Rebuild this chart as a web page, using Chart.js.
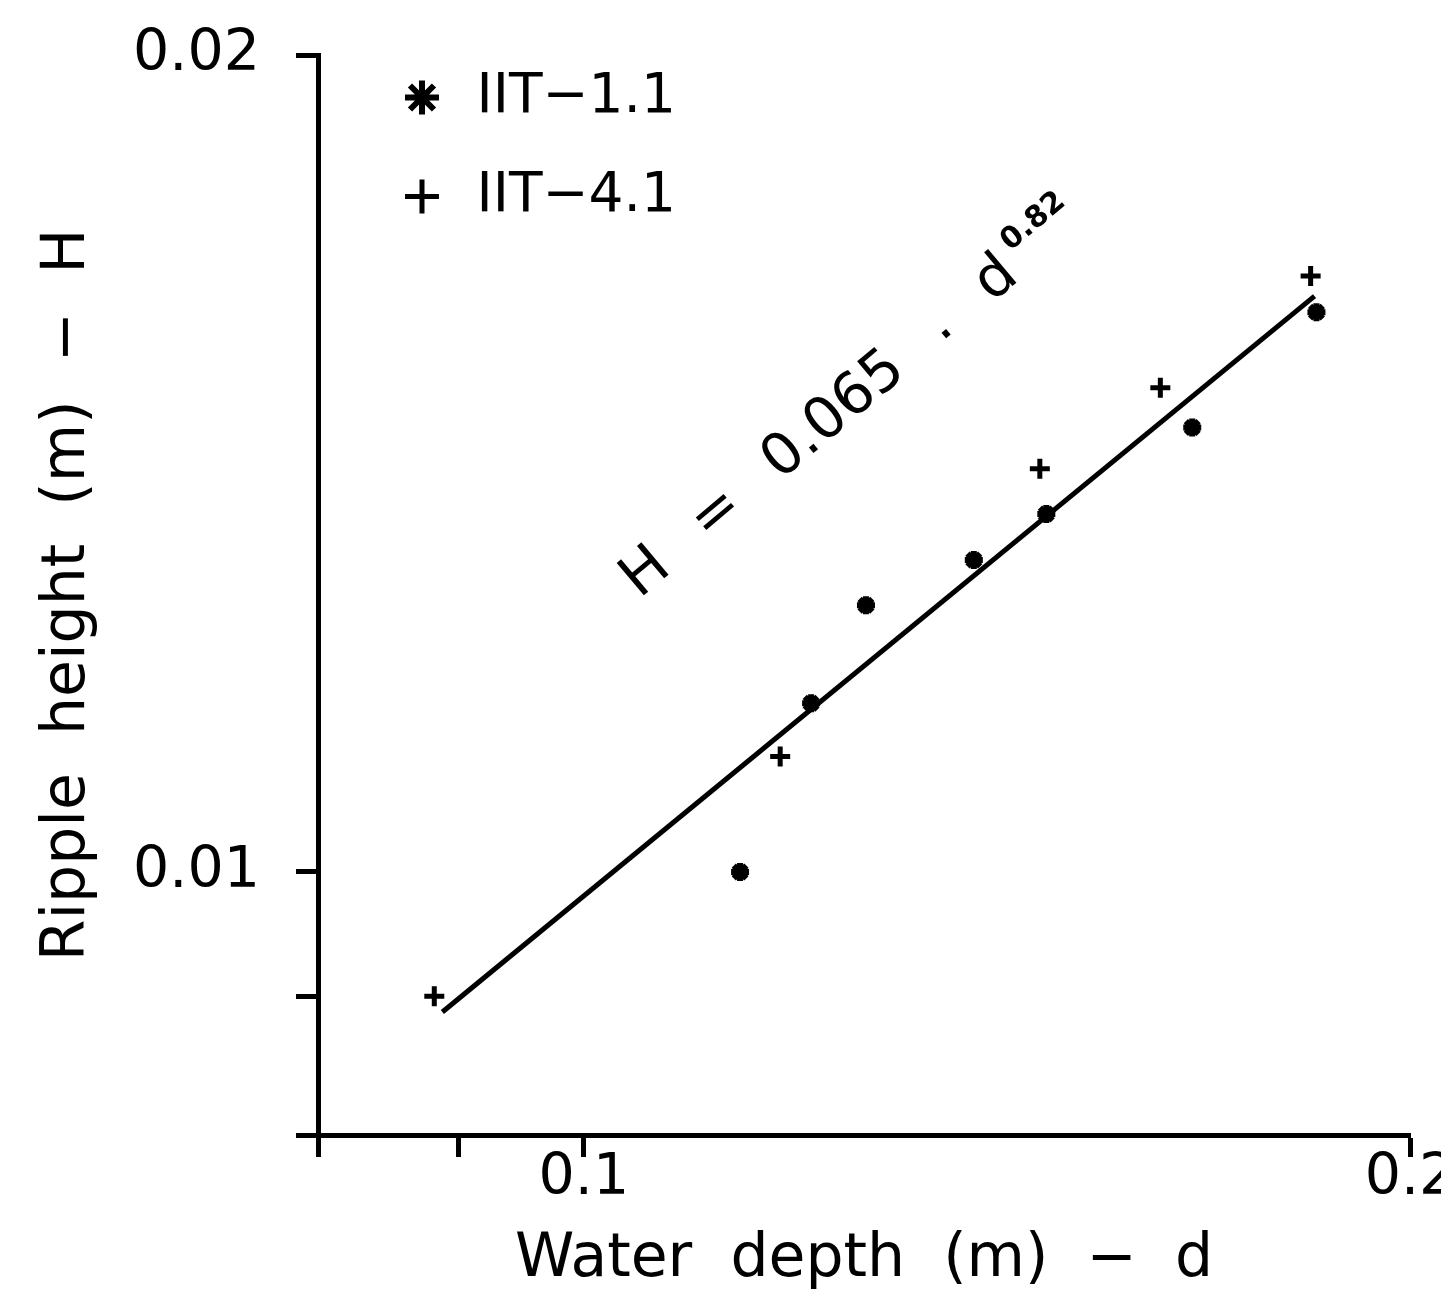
<!DOCTYPE html>
<html>
<head>
<meta charset="utf-8">
<title>Ripple height vs water depth</title>
<script src="https://cdn.jsdelivr.net/npm/chart.js@4.4.1/dist/chart.umd.min.js"></script>
<style>
    html, body { margin: 0; padding: 0; background: #fff; }
    canvas { display: block; }
</style>
</head>
<body>
<canvas id="rippleChart" width="1441" height="1296"></canvas>
<script>
// data (log-log)
const depth11 = [0.114, 0.121, 0.1267, 0.1387, 0.1474, 0.1666, 0.1849];
const height11 = [0.0100, 0.01154, 0.01254, 0.01303, 0.01355, 0.01458, 0.01608];
const depth41 = [0.0882, 0.1179, 0.1466, 0.1622, 0.184];
const height41 = [0.0090, 0.01103, 0.01408, 0.01508, 0.01658];
const fitDepth = [0.0888, 0.1846];
const fitHeight = [0.00888, 0.0163];

const xTicks = [0.08, 0.09, 0.1, 0.2];
const yTicks = [0.008, 0.009, 0.01, 0.02];
const xLabels = [0.1, 0.2];
const yLabels = [0.01, 0.02];

const seriesNames = ['IIT\u22121.1', 'IIT\u22124.1'];
const eqParts = ['H', '=', '0.065', '\u00b7', 'd'];
const eqPower = '0.82';

const FONT = '"DejaVu Sans", "Liberation Sans", sans-serif';

function toPoints(xs, ys) {
    return xs.map((x, i) => ({ x: x, y: ys[i] }));
}

// moves the legend into the top-left corner of the plot
const legendPlace = {
    id: 'legendPlace',
    afterLayout(chart) {
        const lg = chart.legend;
        const area = chart.chartArea;
        lg.left = area.left + 33;
        lg.top = area.top - 29;
        lg.right = area.right;
        lg.bottom = area.bottom;
    }
};

// equation written along the fitted line
const equationLabel = {
    id: 'equationLabel',
    afterDraw(chart) {
        const { ctx, scales } = chart;
        const x0 = scales.x.getPixelForValue(0.1051);
        const y0 = scales.y.getPixelForValue(0.01264);
        ctx.save();
        ctx.translate(x0, y0);
        ctx.rotate(-40 * Math.PI / 180);
        ctx.fillStyle = '#000';
        ctx.textBaseline = 'alphabetic';
        ctx.textAlign = 'left';
        ctx.font = '58px ' + FONT;
        let pos = -5;
        eqParts.forEach(p => {
            const dy = p === '\u00b7' ? 14 : 0;
            ctx.fillText(p, pos, dy);
            pos += ctx.measureText(p).width + 46;
        });
        pos -= 46;
        ctx.font = 'bold 30px ' + FONT;
        ctx.fillText(eqPower, pos + 10, -28);
        ctx.restore();
    }
};

function axisSetup(ticks, labels) {
    return {
        type: 'logarithmic',
        border: { display: true, color: '#000', width: 5 },
        grid: { drawOnChartArea: false, drawTicks: true, tickLength: 22, tickWidth: 5, color: '#000' },
        ticks: {
            autoSkip: false,
            maxRotation: 0,
            color: '#000',
            font: { family: FONT, size: 57 },
            callback: value => labels.includes(value) ? String(value) : ''
        },
        afterBuildTicks: scale => {
            scale.ticks = ticks.map(v => ({ value: v }));
        }
    };
}

const xAxis = axisSetup(xTicks, xLabels);
xAxis.min = 0.08;
xAxis.max = 0.2;
xAxis.ticks.padding = -12;
xAxis.title = {
    display: true,
    text: 'Water  depth  (m)  \u2212  d',
    color: '#000',
    font: { family: FONT, size: 60 },
    padding: { top: 0, bottom: 0 }
};
xAxis.afterFit = scale => {
    scale.height = 161;
    scale.paddingLeft = 0;
    scale.paddingRight = 0;
};

const yAxis = axisSetup(yTicks, yLabels);
yAxis.min = 0.008;
yAxis.max = 0.02;
yAxis.ticks.padding = 36;
yAxis.title = {
    display: true,
    text: 'Ripple  height  (m)  \u2212  H',
    color: '#000',
    font: { family: FONT, size: 60 },
    padding: { top: 32, bottom: 0 }
};
yAxis.afterFit = scale => {
    scale.width = 318;
    scale.paddingTop = 0;
    scale.paddingBottom = 0;
};

const ctx = document.getElementById('rippleChart').getContext('2d');
new Chart(ctx, {
    type: 'scatter',
    data: {
        datasets: [
            {
                label: seriesNames[0],
                data: toPoints(depth11, height11),
                pointStyle: 'star',
                pointRadius: 9,
                borderWidth: 6,
                borderColor: '#000',
                backgroundColor: '#000'
            },
            {
                label: seriesNames[1],
                data: toPoints(depth41, height41),
                pointStyle: 'cross',
                pointRadius: 10,
                borderWidth: 5,
                borderColor: '#000',
                backgroundColor: '#000'
            },
            {
                label: 'fit',
                data: toPoints(fitDepth, fitHeight),
                showLine: true,
                pointRadius: 0,
                borderColor: '#000',
                borderWidth: 5
            }
        ]
    },
    options: {
        responsive: false,
        animation: false,
        layout: { padding: { left: 0, right: 31, top: 55, bottom: 0 } },
        plugins: {
            legend: {
                position: 'chartArea',
                align: 'start',
                labels: {
                    filter: item => item.text !== 'fit',
                    usePointStyle: true,
                    boxWidth: 54,
                    boxHeight: 24,
                    padding: 44,
                    color: '#000',
                    font: { family: FONT, size: 55 }
                }
            },
            tooltip: { enabled: false }
        },
        scales: { x: xAxis, y: yAxis }
    },
    plugins: [legendPlace, equationLabel]
});
</script>
</body>
</html>
